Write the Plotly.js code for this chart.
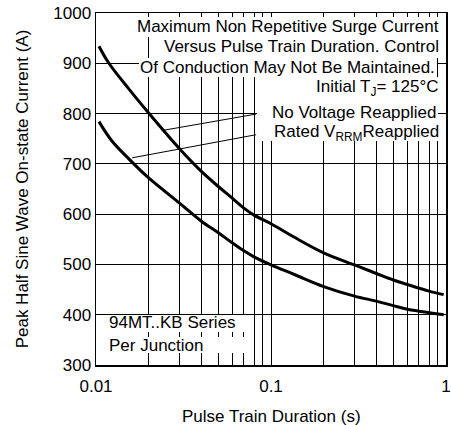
<!DOCTYPE html>
<html>
<head>
<meta charset="utf-8">
<script src="https://cdn.plot.ly/plotly-3.0.1.min.js"></script>
<style>html,body{margin:0;padding:0;background:#fff}#chart{width:451px;height:425px}</style>
</head>
<body>
<div id="chart"></div>
<script>
// --- data ---
const noVoltX = [0.0104, 0.0118, 0.0154, 0.02, 0.03, 0.04, 0.05, 0.06, 0.07, 0.08, 0.1, 0.136, 0.2, 0.3, 0.4, 0.5, 0.6, 0.7, 0.8, 0.97];
const noVoltY = [934, 901, 849, 801, 730, 685, 655, 632, 612, 598, 581, 554, 523, 499, 482, 469, 460, 453, 447, 440];
const ratedX = [0.0104, 0.0123, 0.0154, 0.02, 0.03, 0.04, 0.05, 0.06, 0.07, 0.08, 0.1, 0.136, 0.2, 0.3, 0.4, 0.5, 0.6, 0.7, 0.8, 0.97];
const ratedY = [784, 746, 710, 672, 622, 586, 563, 543, 527, 515, 499, 480, 456, 437, 427, 418, 411, 407, 404, 400];
const leader1X = [0.0823, 0.0245];
const leader1Y = [799, 767];
const leader2X = [0.0823, 0.0161];
const leader2Y = [758, 712];
const xTickVals = [0.01, 0.1, 1];
const xTickText = ['0.01', '0.1', '1'];
const xMinorVals = [0.02,0.03,0.04,0.05,0.06,0.07,0.08,0.09,0.2,0.3,0.4,0.5,0.6,0.7,0.8,0.9];
const yTickVals = [300,400,500,600,700,800,900,1000];
const noteLines = ['Maximum Non Repetitive Surge Current','Versus Pulse Train Duration. Control','Of Conduction May Not Be Maintained.','Initial T<sub>J</sub>= 125°C','No Voltage Reapplied','Rated V<sub>RRM</sub>Reapplied'];
const seriesLines = ['94MT..KB Series','Per Junction'];
const xTitle = 'Pulse Train Duration (s)';
const yTitle = 'Peak Half Sine Wave On-state Current (A)';

// --- layout geometry ---
const M = {l:96, r:5, t:13, b:60};
const W = 451, H = 425;
const pw = W - M.l - M.r, ph = H - M.t - M.b;
const px = p => (p - M.l) / pw;
const py = p => (H - M.b - p) / ph;
const FONT = 'Liberation Sans, Arial, sans-serif';
const TXT = {family:FONT, size:17, color:'#000'};

const curve = (x, y) => ({x, y, type:'scatter', mode:'lines', line:{color:'#000', width:3, shape:'spline', smoothing:1}, hoverinfo:'skip'});
const leader = (x, y) => ({x, y, type:'scatter', mode:'lines', line:{color:'#000', width:1}, hoverinfo:'skip'});
const data = [curve(noVoltX, noVoltY), curve(ratedX, ratedY), leader(leader1X, leader1Y), leader(leader2X, leader2Y)];

const boxesPx = [
  [131, 441, 17, 37],
  [155, 441, 37, 58],
  [139, 437, 58, 77],
  [257, 438, 77, 141],
  [107, 247, 315, 332],
  [107, 247, 337, 353]
];
const shapes = boxesPx.map(b => ({type:'rect', xref:'paper', yref:'paper', x0:px(b[0]), x1:px(b[1]), y0:py(b[3]), y1:py(b[2]), fillcolor:'#fff', line:{width:0}, layer:'above'}));

const noteY = [26, 47, 67, 88, 112, 133];
const noteX = [441, 441, 437, 441, 438, 441];
const annotations = noteLines.map((t, i) => ({text:t, xref:'paper', yref:'paper', x:px(noteX[i]), y:py(noteY[i]), xanchor:'right', yanchor:'middle', showarrow:false, font:TXT}));
const seriesY = [322, 345];
seriesLines.forEach((t, i) => annotations.push({text:t, xref:'paper', yref:'paper', x:px(107), y:py(seriesY[i]), xanchor:'left', yanchor:'middle', showarrow:false, font:TXT}));
// x-axis title placed as an annotation so it can sit lower than Plotly's margin limit
annotations.push({text:xTitle, xref:'paper', yref:'paper', x:px(271), y:py(416), xanchor:'center', yanchor:'middle', showarrow:false, font:TXT});

const layout = {
  width: W, height: H,
  margin: M,
  paper_bgcolor:'#fff', plot_bgcolor:'#fff',
  showlegend:false,
  font:TXT,
  xaxis:{type:'log', range:[-2, 0], tickvals:xTickVals, ticktext:xTickText, showgrid:true, gridcolor:'#000', gridwidth:1,
         minor:{tickvals:xMinorVals, showgrid:true, gridcolor:'#000', gridwidth:1, ticks:''},
         showline:true, linecolor:'#000', linewidth:1.5, mirror:true, ticks:'', zeroline:false, ticklabelstandoff:5,
         tickfont:TXT},
  yaxis:{range:[300, 1000], tickvals:yTickVals, showgrid:true, gridcolor:'#000', gridwidth:1,
         showline:true, linecolor:'#000', linewidth:1.5, mirror:true, ticks:'', zeroline:false,
         tickfont:TXT,
         title:{text:yTitle, font:TXT, standoff:20}},
  shapes, annotations
};
Plotly.newPlot('chart', data, layout, {displayModeBar:false, staticPlot:true});
</script>
</body>
</html>
